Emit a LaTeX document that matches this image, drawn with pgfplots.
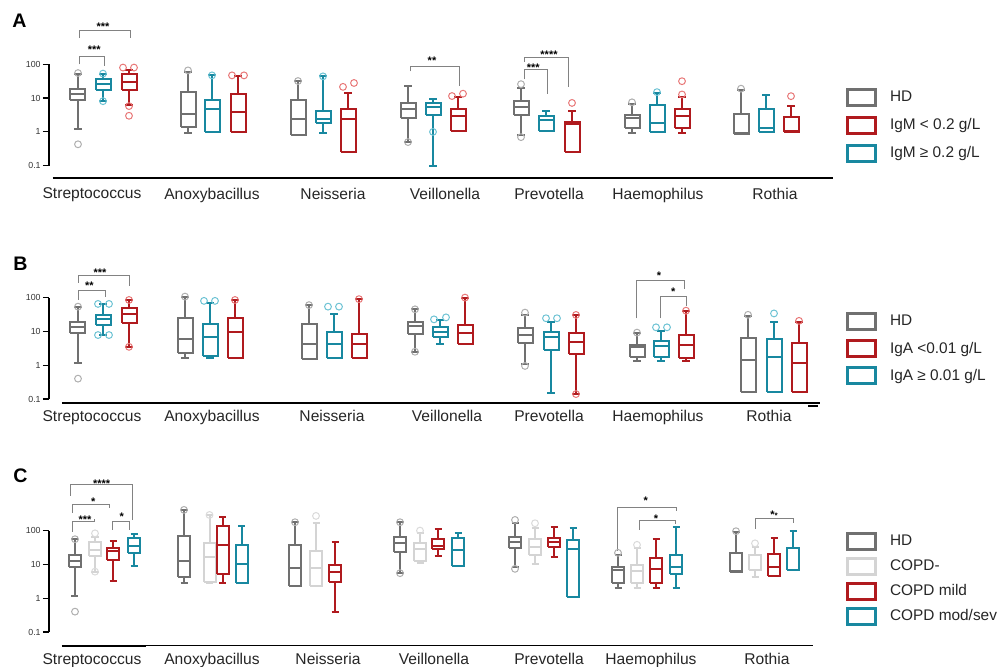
\documentclass[border=0pt]{standalone}
\usepackage{fontspec}
\setmainfont{Liberation Sans}
\usepackage{pgfplots}
\pgfplotsset{compat=1.18}

\definecolor{cHD}{RGB}{112,112,112}
\definecolor{cRed}{RGB}{176,26,30}
\definecolor{cTeal}{RGB}{24,136,160}
\definecolor{cLG}{RGB}{212,212,212}
\definecolor{oHD}{RGB}{175,175,175}
\definecolor{oRed}{RGB}{232,120,120}
\definecolor{oTeal}{RGB}{110,195,212}
\definecolor{oLG}{RGB}{218,218,218}
\definecolor{sig}{RGB}{130,130,130}

\def\bw{7.5}\def\ww{4}
% box: color, position, lower whisker, lower quartile, median, upper quartile, upper whisker
\newcommand{\bx}[7]{%
  \pgfmathsetmacro\xl{#2-\bw}\pgfmathsetmacro\xr{#2+\bw}%
  \pgfmathsetmacro\wl{#2-\ww}\pgfmathsetmacro\wr{#2+\ww}%
  \addplot[forget plot, draw=#1, line width=1pt, unbounded coords=jump, mark=none, line join=miter] coordinates {
    (\xl,#4) (\xr,#4) (\xr,#6) (\xl,#6) (\xl,#4) (\xl,nan)
    (\xl,#5) (\xr,#5) (\xr,nan)
    (#2,#4) (#2,#3) (#2,nan)
    (\wl,#3) (\wr,#3) (\wr,nan)
    (#2,#6) (#2,#7) (#2,nan)
    (\wl,#7) (\wr,#7)};}
\newcommand{\outl}[2]{\addplot[forget plot, only marks, mark=o, mark size=1.7pt,
  draw=#1, line width=0.5pt] coordinates {#2};}
% bracket: x1, x2, ytop, yleftbottom, yrightbottom
\newcommand{\sigb}[5]{\draw[sig, line width=0.5pt] (axis cs:#1,#4) -- (axis cs:#1,#3) -- (axis cs:#2,#3) -- (axis cs:#2,#5);}
\newcommand{\stars}[3]{\node[font=\bfseries\fontsize{5.5}{6}\selectfont, inner sep=0pt, yshift=-1pt] at (axis cs:#1,#2) {#3};}

\pgfplotsset{
  mypanel/.style={
    scale only axis, width=392pt, height=50.7pt,
    xmin=49, xmax=833, ymin=0.1, ymax=100, clip=false,
    axis x line=bottom, axis y line=left,
    x axis line style={draw=none}, y axis line style={-, line width=0.8pt, black},
    ytick={0.1,1,10,100}, yticklabels={0.1,1,10,100}, yminorticks=false,
    tick align=outside, major tick length=3pt,
    ytick style={line width=0.6pt, black}, xtick style={draw=none},
    yticklabel style={font=\fontsize{4.4}{5}\selectfont, inner sep=1pt, text=black!80},
    xticklabel style={font=\fontsize{7.8}{9}\selectfont, anchor=north, inner sep=0pt, text=black!85},
    xticklabels={Streptococcus,Anoxybacillus,Neisseria,Veillonella,Prevotella,Haemophilus,Rothia},
    legend style={draw=none, fill=none, inner sep=0pt, outer sep=0pt, row sep=0pt,
      column sep=0pt, anchor=north west,
      nodes={inner sep=0pt, anchor=west, font=\fontsize{7.7}{9}\selectfont, text=black!85}},
    legend cell align=left,
  },
  lgimg/.style={legend image code/.code={
    \path[draw=none, fill=none] (0pt,-#1) rectangle (22pt,#1);
    \draw[line width=1.5pt, fill=none] (0.75pt,-4pt) rectangle (14.75pt,4pt);}},
}

\begin{document}
\begin{tikzpicture}
\useasboundingbox (0,0) rectangle (500pt,-333.5pt);

\node[anchor=north west, inner sep=0pt, font=\bfseries\fontsize{9.8}{11}\selectfont] at (6pt,-7pt) {A};
\node[anchor=north west, inner sep=0pt, font=\bfseries\fontsize{9.8}{11}\selectfont] at (6.5pt,-128.3pt) {B};
\node[anchor=north west, inner sep=0pt, font=\bfseries\fontsize{9.8}{11}\selectfont] at (6.5pt,-234.2pt) {C};

%================ Panel A
\begin{axis}[mypanel, ymode=log, at={(24.5pt,-82.85pt)}, anchor=south west,
  xtick={92,212,333,445,549,658,775}, xticklabel style={yshift=-8pt},
  legend style={at={(axis cs:846,27.0)}}]
\addlegendimage{draw=cHD, lgimg=7pt}\addlegendentry{HD}
\addlegendimage{draw=cRed, lgimg=7pt}\addlegendentry{IgM < 0.2 g/L}
\addlegendimage{draw=cTeal, lgimg=7pt}\addlegendentry{IgM ≥ 0.2 g/L}
% Streptococcus
\bx{cHD}{78}{1.19}{8.7}{13}{18}{51}
\bx{cTeal}{103}{8.1}{17.1}{27}{35.6}{53}
\bx{cRed}{129}{6.2}{17.1}{30}{50}{66.5}
% Anoxybacillus
\bx{cHD}{188}{0.94}{1.41}{3.5}{14.9}{59}
\bx{cTeal}{212}{0.99}{0.99}{4.9}{8.7}{47}
\bx{cRed}{238}{1.0}{1.0}{3.76}{13}{45}
% Neisseria
\bx{cHD}{298}{0.8}{0.8}{2.34}{8.9}{31.6}
\bx{cTeal}{323}{0.94}{1.78}{2.4}{4.2}{44}
\bx{cRed}{348}{0.25}{0.25}{2.35}{4.6}{14.6}
% Veillonella
\bx{cHD}{408}{0.51}{2.5}{4.7}{7.4}{22.4}
\bx{cTeal}{433}{0.1}{3.1}{5.5}{7.2}{9.1}
\bx{cRed}{458}{1.06}{1.06}{3.0}{4.6}{10.9}
% Prevotella
\bx{cHD}{521}{0.8}{3.1}{5.3}{8.3}{20}
\bx{cTeal}{546}{1.08}{1.08}{2.23}{2.9}{4.1}
\bx{cRed}{572}{0.26}{0.26}{1.66}{1.95}{4.1}
% Haemophilus
\bx{cHD}{632}{0.94}{1.27}{2.5}{3.1}{6.9}
\bx{cTeal}{657}{1.0}{1.0}{1.85}{6.2}{14.6}
\bx{cRed}{682}{0.94}{1.27}{2.9}{4.6}{10.9}
% Rothia
\bx{cHD}{741}{0.84}{0.84}{0.9}{3.5}{17.9}
\bx{cTeal}{766}{1.0}{1.0}{1.32}{4.7}{12.2}
\bx{cRed}{791}{1.0}{1.0}{1.05}{2.8}{5.8}
\outl{oHD}{(78,0.43) (78,55) (188,66) (298,32) (408,0.5) (521,25.8) (521,0.7) (632,7.5) (741,19)}
\outl{oTeal}{(103,53) (103,8.1) (212,47) (323,44) (433,1.0) (657,15)}
\outl{oRed}{(123,80) (134,80) (129,5.8) (129,3.0) (232,47) (244,47) (343,21.5) (354,28) (452,11.5) (463,13.5) (572,7.2) (682,12.8) (682,31.6) (791,11.4)}
% brackets
\sigb{80}{130.7}{1007}{597}{597}\stars{103}{1514}{***}
\sigb{80}{104}{172}{100}{89}\stars{94.3}{303}{***}
\sigb{410}{459}{87}{62}{22.4}\stars{432}{147}{**}
\sigb{524}{568.3}{157}{117}{21.4}\stars{549}{221}{****}
\sigb{524}{547.7}{69.7}{36}{13}\stars{533.3}{93}{***}
% baseline
\draw[line width=0.6pt] (axis cs:53,0.0432) -- (axis cs:833,0.0432);
\draw[line width=1.1pt] (axis cs:53,0.0432) -- (axis cs:146,0.0432);
\draw[line width=1.1pt] (axis cs:186,0.0432) -- (axis cs:255,0.0432);
\draw[line width=1.1pt] (axis cs:281,0.0432) -- (axis cs:366,0.0432);
\draw[line width=1.1pt] (axis cs:504,0.0432) -- (axis cs:589,0.0432);
\draw[line width=1.1pt] (axis cs:628,0.0432) -- (axis cs:699,0.0432);
\end{axis}

%================ Panel B
\begin{axis}[mypanel, ymode=log, at={(24.5pt,-199.5pt)}, anchor=south west,
  xtick={92,212,332,447,549,658,769}, xticklabel style={yshift=-2.5pt},
  legend style={at={(axis cs:846,47.6)}}]
\addlegendimage{draw=cHD, lgimg=6.75pt}\addlegendentry{HD}
\addlegendimage{draw=cRed, lgimg=6.75pt}\addlegendentry{IgA <0.01 g/L}
\addlegendimage{draw=cTeal, lgimg=6.75pt}\addlegendentry{IgA ≥ 0.01 g/L}
\bx{cHD}{78}{1.13}{9.1}{13.2}{18.6}{54}
\bx{cTeal}{103}{7.8}{15.1}{23.3}{30.7}{65}
\bx{cRed}{129}{3.5}{18}{32}{48}{85}
\bx{cHD}{185}{1.66}{2.35}{5.8}{24.6}{107}
\bx{cTeal}{210}{1.66}{1.9}{7.0}{16.6}{68}
\bx{cRed}{235}{1.66}{1.66}{9.4}{25}{85}
\bx{cHD}{309}{1.49}{1.49}{4.2}{16.6}{60}
\bx{cTeal}{334}{1.66}{1.66}{4.1}{9.4}{33}
\bx{cRed}{359}{1.66}{1.66}{4.2}{8.4}{90}
\bx{cHD}{415}{2.5}{8.4}{14.4}{19.4}{45}
\bx{cTeal}{440}{4.2}{6.7}{9.8}{13.8}{21.8}
\bx{cRed}{465}{4.1}{4.1}{9.1}{15.5}{100}
\bx{cHD}{525}{1.08}{4.6}{7.8}{12.3}{30.7}
\bx{cTeal}{551}{0.15}{2.8}{7.0}{9.8}{19.4}
\bx{cRed}{576}{0.14}{2.14}{5.0}{8.8}{30.7}
\bx{cHD}{637}{1.32}{1.7}{3.4}{4.0}{8.8}
\bx{cTeal}{661}{1.32}{1.78}{3.7}{5.3}{10.5}
\bx{cRed}{686}{1.32}{1.62}{4.0}{7.8}{40}
\bx{cHD}{748}{0.16}{0.16}{1.41}{6.2}{29}
\bx{cTeal}{774}{0.16}{0.16}{1.7}{5.8}{19.4}
\bx{cRed}{799}{0.16}{0.16}{1.17}{4.4}{19.4}
\outl{oHD}{(78,54) (78,0.4) (185,107) (309,60) (415,45) (415,2.5) (525,36) (525,0.95) (637,9.2) (748,31)}
\outl{oTeal}{(98,65) (109,65) (98,7.8) (109,7.8) (204,80) (215,80) (328,54) (339,54) (434,22.7) (446,26) (546,24.5) (557,24.5) (656,13.2) (667,13.2) (774,34)}
\outl{oRed}{(129,85) (129,3.5) (235,85) (359,90) (465,100) (576,30.7) (576,0.14) (686,41) (799,20.5)}
\sigb{79}{129.3}{441}{279}{222}\stars{100}{617}{***}
\sigb{78.3}{105.3}{158}{85}{107}\stars{89.3}{260}{**}
\sigb{636.7}{684.3}{320}{24.4}{177}\stars{659}{505}{*}
\sigb{660.3}{686.7}{107}{24.4}{56.8}\stars{673.3}{170}{*}
\draw[line width=0.8pt] (axis cs:62,0.0762) -- (axis cs:820,0.0762);
\draw[line width=0.8pt] (axis cs:808,0.0621) -- (axis cs:818,0.0621);
\end{axis}

%================ Panel C
\def\bw{6}\def\ww{3.5}
\begin{axis}[mypanel, ymode=log, at={(24.5pt,-316pt)}, anchor=south west,
  xtick={92,212,328,434,549,651,767}, xticklabel style={yshift=-7.5pt},
  legend style={at={(axis cs:846,106.7)}}]
\addlegendimage{draw=cHD, lgimg=6.17pt}\addlegendentry{HD}
\addlegendimage{draw=cLG, lgimg=6.17pt}\addlegendentry{COPD-}
\addlegendimage{draw=cRed, lgimg=6.17pt}\addlegendentry{COPD mild}
\addlegendimage{draw=cTeal, lgimg=6.17pt}\addlegendentry{COPD mod/sev}
% Streptococcus
\bx{cHD}{75}{1.17}{8.6}{12.9}{19}{55.6}
\bx{cLG}{95}{6.1}{17.8}{27}{45}{66}
\bx{cRed}{113}{3.3}{13.6}{25.7}{30}{49.5}
\bx{cTeal}{134}{9.2}{22.4}{36}{60}{80}
% Anoxybacillus
\bx{cHD}{184}{2.8}{4.35}{12.6}{70}{410}
\bx{cLG}{209.5}{2.8}{3.0}{17}{42}{290}
\bx{cRed}{222.5}{2.8}{5.3}{37}{138}{250}
\bx{cTeal}{241.5}{2.9}{2.9}{10}{38}{138}
% Neisseria
\bx{cHD}{295}{2.3}{2.3}{7.7}{38}{177}
\bx{cLG}{316}{2.3}{2.3}{7.7}{25}{165}
\bx{cRed}{335}{0.4}{3.0}{6.1}{9.7}{47}
% Veillonella
\bx{cHD}{400}{5.5}{24}{42}{66}{177}
\bx{cLG}{420}{10.8}{12.6}{28}{44}{83}
\bx{cRed}{438}{18}{28}{35}{56}{110}
\bx{cTeal}{458}{9.0}{9.0}{27}{60}{87}
% Prevotella
\bx{cHD}{515}{8.6}{30}{45}{66}{165}
\bx{cLG}{535}{10.4}{19}{33.6}{56}{118}
\bx{cRed}{554}{17}{33.6}{47}{60}{131}
\bx{cTeal}{573}{1.11}{1.11}{28.8}{53}{118}
% Haemophilus
\bx{cHD}{618}{1.98}{2.8}{6.9}{8.6}{19}
\bx{cLG}{637}{1.98}{2.8}{6.4}{9.7}{30}
\bx{cRed}{656}{1.98}{2.9}{7.2}{15.2}{56}
\bx{cTeal}{676}{1.98}{5.25}{8.6}{19}{131}
% Rothia
\bx{cHD}{736}{5.9}{5.9}{6.5}{21.4}{93}
\bx{cLG}{755}{4.2}{6.9}{6.9}{19}{33.6}
\bx{cRed}{774}{4.4}{4.4}{8.6}{20}{62}
\bx{cTeal}{793}{6.9}{6.9}{6.9}{30}{100}
\outl{oHD}{(75,55.6) (75,0.4) (184,410) (295,177) (400,177) (400,5.5) (515,207) (515,7.4) (618,22) (736,96)}
\outl{oLG}{(95,83) (95,6.1) (209.5,290) (316,272) (420,100) (535,165) (637,38) (755,42)}
\sigb{70.7}{132.7}{2250}{1065}{207}\stars{101.7}{2820}{****}
\sigb{72.3}{109.3}{576}{334}{470}\stars{93.3}{810}{*}
\sigb{72.3}{94.3}{185}{93}{217}\stars{85}{243}{***}
\sigb{112.3}{129.3}{185}{105}{105}\stars{121.7}{305}{*}
\sigb{617.3}{676}{492}{25}{390}\stars{645.7}{867}{*}
\sigb{639.3}{675}{194}{105}{158}\stars{656}{249}{*}
\sigb{755.7}{793.3}{222}{112}{166}\stars{774}{340}{*{\fontsize{4}{4}\selectfont *}}
\draw[line width=0.7pt] (axis cs:62,0.0394) -- (axis cs:813,0.0394);
\draw[line width=1.1pt] (axis cs:62,0.0394) -- (axis cs:146,0.0394);
\end{axis}
\end{tikzpicture}
\end{document}
